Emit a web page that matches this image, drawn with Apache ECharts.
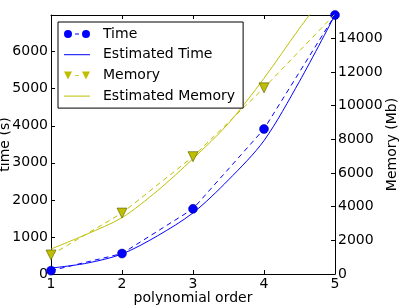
<!DOCTYPE html>
<html>
<head>
<meta charset="utf-8">
<script src="https://cdn.jsdelivr.net/npm/echarts@6/dist/echarts.min.js"></script>
<style>
html,body{margin:0;padding:0;background:#fff;}
#chart{width:407px;height:305px;}
</style>
</head>
<body>
<div id="chart"></div>
<script>
// Measured data
const orders = [1, 2, 3, 4, 5];
const timeValues = [90, 552, 1758, 3913, 6990];
const memoryValues = [1130, 3620, 6970, 11060, 15450];
// Estimated curves, read at half-step positions
const estOrders = [1, 1.5, 2, 2.5, 3, 3.5, 4, 4.5, 5];
const estTimeValues = [160, 290, 540, 1030, 1650, 2540, 3600, 5200, 6990];
const estMemoryValues = [1485, 2360, 3350, 4950, 6850, 8950, 11630, 14600, 17400];

const pairs = (xs, ys) => xs.map((x, i) => [x, ys[i]]);

const FONT = 'DejaVu Sans';
const BLUE = '#0000ff';
const YEL = '#bfbf00';

// legend icons (matplotlib style: marker - dash - marker)
const ICON_CIRCLES = 'path://M0,4 A4,4 0 1,0 8,4 A4,4 0 1,0 0,4 Z M11,3.6 L15,3.6 L15,4.4 L11,4.4 Z M18,4 A4,4 0 1,0 26,4 A4,4 0 1,0 18,4 Z';
const ICON_TRIS = 'path://M0,0 L8,0 L4,8 Z M11,3.6 L15,3.6 L15,4.4 L11,4.4 Z M18,0 L26,0 L22,8 Z';
const ICON_LINE = 'path://M0,0 L26,0 L26,1 L0,1 Z';

const fmt = v => String(v);

const chart = echarts.init(document.getElementById('chart'), null, {renderer: 'canvas'});
chart.setOption({
  animation: false,
  backgroundColor: '#fff',
  textStyle: {fontFamily: FONT},
  grid: {left: 51, right: 72, top: 15, bottom: 31, containLabel: false, outerBoundsMode: 'none'},
  legend: {
    orient: 'vertical',
    left: 58, top: 22,
    backgroundColor: '#fff',
    borderColor: '#000', borderWidth: 1, borderRadius: 0,
    padding: [5, 8, 5, 6],
    itemWidth: 26, itemHeight: 14, itemGap: 6.7,
    textStyle: {fontFamily: FONT, fontSize: 14, color: '#000', padding: [0, 0, 0, 8]},
    data: [
      {name: 'Time', icon: ICON_CIRCLES, itemStyle: {borderWidth: 0}},
      {name: 'Estimated Time', icon: ICON_LINE},
      {name: 'Memory', icon: ICON_TRIS, itemStyle: {borderWidth: 0}},
      {name: 'Estimated Memory', icon: ICON_LINE}
    ]
  },
  xAxis: [{
    type: 'value', min: 1, max: 5, interval: 1, position: 'bottom',
    name: 'polynomial order', nameLocation: 'middle', nameGap: 17, nameMoveOverlap: false,
    nameTextStyle: {fontFamily: FONT, fontSize: 14, color: '#000'},
    axisLine: {show: true, onZero: false, lineStyle: {color: '#000', width: 1}},
    axisTick: {show: true, inside: true, length: 4, lineStyle: {color: '#000'}},
    axisLabel: {fontFamily: FONT, fontSize: 14, color: '#000', margin: 3, formatter: fmt},
    splitLine: {show: false}
  }, {
    type: 'value', min: 1, max: 5, interval: 1, position: 'top',
    axisLine: {show: true, onZero: false, lineStyle: {color: '#000', width: 1}},
    axisTick: {show: true, inside: true, length: 4, lineStyle: {color: '#000'}},
    axisLabel: {show: false},
    splitLine: {show: false}
  }],
  yAxis: [{
    type: 'value', min: 0, max: 6990, interval: 1000, position: 'left',
    name: 'time (s)', nameLocation: 'middle', nameGap: 39, nameRotate: 90, nameMoveOverlap: false,
    nameTextStyle: {fontFamily: FONT, fontSize: 14, color: '#000'},
    axisLine: {show: true, onZero: false, lineStyle: {color: '#000', width: 1}},
    axisTick: {show: true, inside: true, length: 4, lineStyle: {color: '#000'}},
    axisLabel: {fontFamily: FONT, fontSize: 14, color: '#000', margin: 3, showMaxLabel: false, formatter: fmt},
    splitLine: {show: false}
  }, {
    type: 'value', min: 0, max: 15390, interval: 2000, position: 'right',
    name: 'Memory (Mb)', nameLocation: 'middle', nameGap: 50, nameRotate: 90, nameMoveOverlap: false,
    nameTextStyle: {fontFamily: FONT, fontSize: 14, color: '#000'},
    axisLine: {show: true, onZero: false, lineStyle: {color: '#000', width: 1}},
    axisTick: {show: true, inside: true, length: 4, lineStyle: {color: '#000'}},
    axisLabel: {fontFamily: FONT, fontSize: 14, color: '#000', margin: 3, showMaxLabel: false, formatter: fmt},
    splitLine: {show: false}
  }],
  series: [{
    name: 'Time', type: 'line', xAxisIndex: 0, yAxisIndex: 0,
    data: pairs(orders, timeValues),
    symbol: 'circle', symbolSize: 9, showSymbol: true, clip: true,
    lineStyle: {color: BLUE, width: 1, type: [5, 4]},
    itemStyle: {color: BLUE, borderColor: '#00008b', borderWidth: 0.5},
    z: 2
  }, {
    name: 'Estimated Time', type: 'line', xAxisIndex: 0, yAxisIndex: 0,
    data: pairs(estOrders, estTimeValues),
    showSymbol: false, symbol: 'none', smooth: 0.3, clip: true,
    lineStyle: {color: BLUE, width: 1},
    itemStyle: {color: BLUE},
    z: 2
  }, {
    name: 'Memory', type: 'line', xAxisIndex: 0, yAxisIndex: 1,
    data: pairs(orders, memoryValues),
    symbol: 'triangle', symbolRotate: 180, symbolSize: 10, showSymbol: true, clip: true,
    lineStyle: {color: YEL, width: 1, type: [5, 4]},
    itemStyle: {color: YEL, borderColor: '#555500', borderWidth: 0.6},
    z: 3
  }, {
    name: 'Estimated Memory', type: 'line', xAxisIndex: 0, yAxisIndex: 1,
    data: pairs(estOrders, estMemoryValues),
    showSymbol: false, symbol: 'none', smooth: 0.3, clip: true,
    lineStyle: {color: YEL, width: 1},
    itemStyle: {color: YEL},
    z: 3
  }]
});
</script>
</body>
</html>
